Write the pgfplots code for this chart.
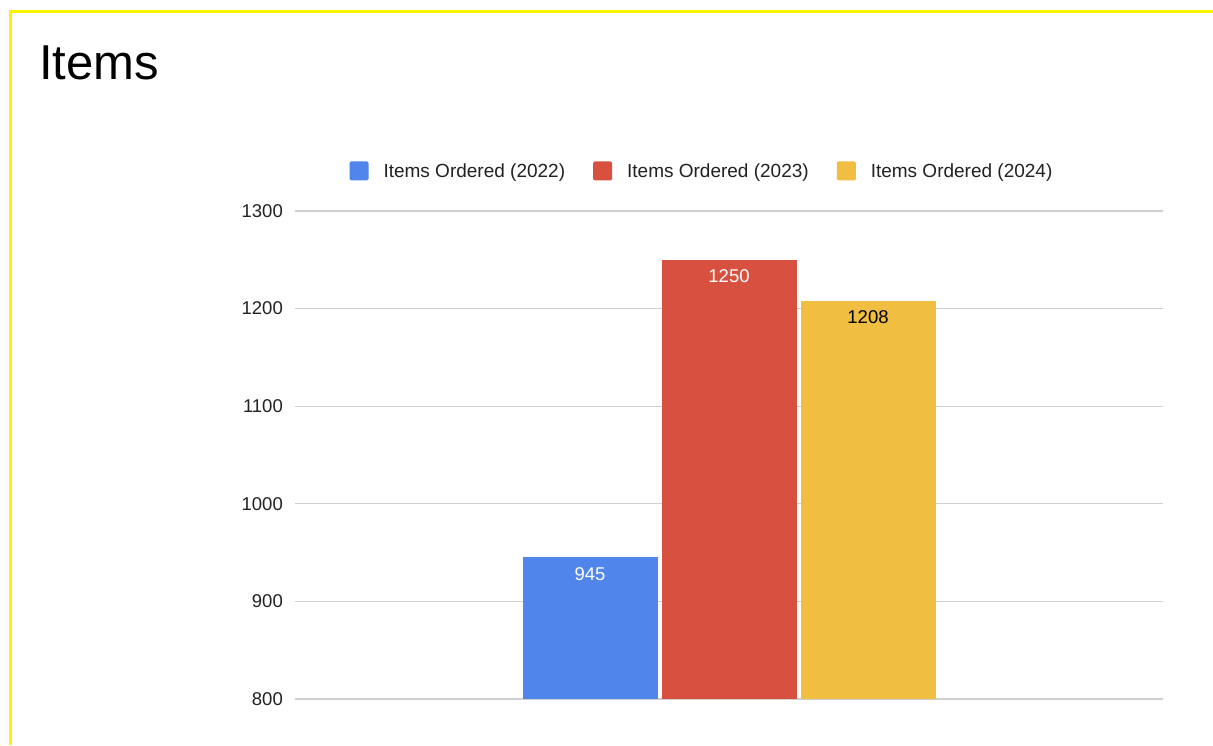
\documentclass[border=0pt]{standalone}
\usepackage{pgfplots}
\pgfplotsset{compat=1.18}
\usepackage{fontspec}
\setmainfont{Liberation Sans}

\definecolor{cblue}{HTML}{5085EC}
\definecolor{cred}{HTML}{D85140}
\definecolor{cyellow}{HTML}{F0BE41}
\definecolor{gridgray}{HTML}{D0D0D0}
\definecolor{txtgray}{HTML}{222222}

\begin{document}
\begin{tikzpicture}[x=1pt,y=1pt]
	\path[use as bounding box] (0,0) rectangle (1213,745);
	\fill[white] (0,0) rectangle (1213,745);
	\draw[yellow, line width=3pt] (10.5,0) -- (10.5,733.5) -- (1213,733.5);
	\node[anchor=base west, inner sep=0pt, font=\fontsize{49}{55}\selectfont] at (39,665) {Items};
	\begin{axis}[
			at={(295pt,46pt)},
			anchor=south west,
			scale only axis,
			width=868pt,
			height=488pt,
			xmin=-1, xmax=1,
			ymin=800, ymax=1300,
			ytick={800,900,...,1300},
			xtick=\empty,
			axis line style={draw=none},
			major tick length=0pt,
			ymajorgrids,
			grid style={color=gridgray, line width=1.2pt},
			/pgf/number format/assume math mode=true,
			/pgf/number format/1000 sep={},
			yticklabel style={font=\fontsize{18.5}{22}\selectfont, text=txtgray, inner sep=0pt, xshift=-12pt},
			ybar=4pt,
			bar width=135pt,
			nodes near coords,
			nodes near coords style={font=\fontsize{18.5}{22}\selectfont, anchor=north, inner sep=0pt, yshift=-10pt},
			legend columns=3,
			legend style={draw=none, at={(0.4677,1.082)}, anchor=center,
				font=\fontsize{19}{22}\selectfont, text=txtgray,
				nodes={inner sep=0pt},
				/tikz/every odd column/.append style={column sep=15pt},
				/tikz/every even column/.append style={column sep=28pt}},
			legend image code/.code={\fill[#1, rounded corners=1.5pt] (0pt,-9.5pt) rectangle (19pt,9.5pt);},
		]
		\addplot[fill=cblue, draw=none, every node near coord/.append style={text=white}]
		coordinates {(0,945)};
		\addplot[fill=cred, draw=none, every node near coord/.append style={text=white}]
		coordinates {(0,1250)};
		\addplot[fill=cyellow, draw=none, every node near coord/.append style={text=black}]
		coordinates {(0,1208)};
		\legend{Items Ordered (2022), Items Ordered (2023), Items Ordered (2024)}
	\end{axis}
\end{tikzpicture}
\end{document}
